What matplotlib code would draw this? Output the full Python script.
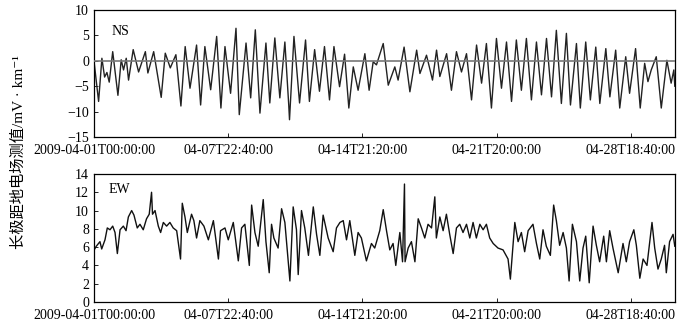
import numpy as np
import matplotlib
matplotlib.use("Agg")
import matplotlib.pyplot as plt

# ================= DATA ================= #
# time in days since 2009-04-01T00:00:00, values in mV/km
ns_day = [0.00, 0.24, 0.41, 0.55, 0.67, 0.79, 0.97, 1.24, 1.41, 1.53, 1.67, 1.79,
          2.03, 2.31, 2.66, 2.79, 3.09, 3.48, 3.69, 3.95, 4.24, 4.50, 4.72, 4.97,
          5.31, 5.52, 5.74, 6.04, 6.35, 6.57, 6.78, 7.07, 7.35, 7.52, 7.87, 8.11,
          8.35, 8.59, 8.90, 9.10, 9.36, 9.62, 9.88, 10.08, 10.12, 10.35, 10.64, 10.95,
          11.15, 11.42, 11.67, 11.93, 12.19, 12.42, 12.71, 12.97, 13.19, 13.42, 13.67, 14.02,
          14.24, 14.45, 14.62, 14.97, 15.23, 15.57, 15.74, 16.05, 16.35, 16.70, 16.87, 17.21,
          17.52, 17.73, 17.90, 18.25, 18.50, 18.76, 19.02, 19.28, 19.54, 19.80, 20.06, 20.31,
          20.57, 20.83, 21.09, 21.35, 21.61, 21.86, 22.12, 22.38, 22.64, 22.90, 23.16, 23.42,
          23.68, 23.93, 24.19, 24.45, 24.66, 24.97, 25.17, 25.45, 25.69, 25.97, 26.18, 26.49,
          26.70, 27.00, 27.21, 27.52, 27.72, 28.03, 28.27, 28.50, 28.67, 28.84, 29.10, 29.36,
          29.65, 29.87, 30.01, 30.06]
ns_val = [0.0, -8.0, 0.5, -3.2, -2.3, -4.2, 1.8, -6.8, 0.2, -1.8, 0.5, -3.8,
          2.2, -2.2, 1.8, -2.4, 1.8, -7.2, 1.5, -1.4, 1.2, -8.9, 2.8, -5.4,
          3.1, -8.7, 2.8, -5.7, 4.8, -9.3, 2.8, -6.4, 6.4, -10.6, 3.5, -7.3,
          6.1, -10.3, 3.5, -8.3, 4.5, -7.3, 3.7, -8.7, -11.6, 4.8, -8.3, 4.1,
          -8.0, 2.2, -6.0, 2.8, -7.7, 2.8, -5.1, 1.3, -9.3, -1.2, -5.8, 1.4,
          -5.8, -0.2, -0.8, 3.4, -4.8, -1.2, -3.8, 2.7, -6.1, 2.1, -2.5, 1.1,
          -3.8, 2.1, -3.1, 1.4, -5.8, 1.8, -2.2, 1.4, -7.7, 3.1, -4.4, 3.4,
          -9.3, 4.4, -5.4, 3.7, -8.0, 4.1, -5.8, 4.4, -7.7, 3.7, -6.7, 4.4,
          -7.1, 6.0, -8.4, 5.4, -8.7, 3.4, -9.3, 3.7, -7.7, 2.7, -8.4, 2.4,
          -7.1, 2.1, -9.3, 0.8, -6.4, 2.4, -9.3, -0.5, -4.1, -1.8, 0.8, -9.3,
          0.1, -4.4, -1.8, -5.0]

ew_day = [0.01, 0.12, 0.31, 0.40, 0.57, 0.69, 0.83, 0.97, 1.09, 1.21, 1.35, 1.52,
          1.66, 1.78, 1.95, 2.07, 2.24, 2.38, 2.55, 2.72, 2.86, 2.98, 3.03, 3.16,
          3.33, 3.45, 3.59, 3.76, 3.93, 4.10, 4.28, 4.48, 4.57, 4.71, 4.83, 5.05,
          5.17, 5.31, 5.48, 5.69, 5.92, 6.18, 6.44, 6.55, 6.78, 6.95, 7.21, 7.47,
          7.64, 7.81, 8.04, 8.16, 8.33, 8.50, 8.76, 8.90, 9.07, 9.19, 9.31, 9.53,
          9.71, 9.88, 10.14, 10.31, 10.48, 10.57, 10.74, 10.91, 11.10, 11.35, 11.52, 11.69,
          11.86, 12.12, 12.38, 12.55, 12.73, 12.90, 13.07, 13.24, 13.50, 13.67, 13.84, 14.10,
          14.36, 14.53, 14.79, 14.97, 15.14, 15.31, 15.48, 15.62, 15.83, 15.97, 16.07, 16.10,
          16.26, 16.43, 16.61, 16.78, 16.95, 17.12, 17.29, 17.47, 17.64, 17.72, 17.90, 18.07,
          18.24, 18.41, 18.59, 18.76, 18.93, 19.10, 19.28, 19.45, 19.62, 19.79, 19.97, 20.14,
          20.31, 20.48, 20.66, 20.91, 21.17, 21.43, 21.55, 21.69, 21.78, 21.95, 22.12, 22.29,
          22.47, 22.72, 22.90, 23.07, 23.24, 23.41, 23.62, 23.79, 23.93, 24.10, 24.28, 24.45,
          24.59, 24.76, 24.97, 25.14, 25.31, 25.45, 25.63, 25.83, 26.00, 26.17, 26.38, 26.52,
          26.69, 26.86, 27.13, 27.38, 27.55, 27.72, 27.94, 28.07, 28.25, 28.42, 28.62, 28.88,
          29.02, 29.19, 29.36, 29.53, 29.62, 29.79, 29.97, 30.06]
ew_val = [5.7, 6.1, 6.6, 5.8, 6.8, 8.1, 7.9, 8.3, 7.6, 5.3, 7.9, 8.3,
          7.8, 9.3, 10.0, 9.5, 8.1, 8.5, 7.9, 9.1, 9.6, 12.0, 9.6, 10.0,
          8.3, 7.6, 8.7, 8.3, 8.7, 8.1, 7.8, 4.7, 10.8, 9.3, 7.6, 9.6,
          8.9, 7.0, 8.9, 8.3, 6.8, 8.9, 4.7, 7.8, 8.1, 6.8, 8.7, 4.5,
          8.1, 8.5, 4.0, 10.6, 7.6, 6.1, 11.2, 6.6, 3.2, 8.5, 7.0, 5.9,
          10.2, 8.7, 2.3, 10.4, 7.9, 3.0, 10.0, 8.1, 5.1, 10.4, 7.4, 5.1,
          9.5, 7.0, 5.5, 8.1, 8.7, 8.9, 6.8, 8.9, 5.1, 7.6, 7.0, 4.5,
          6.4, 5.9, 7.8, 10.1, 7.8, 5.7, 6.4, 4.0, 7.6, 4.4, 12.9, 4.4,
          5.9, 6.6, 4.4, 9.1, 8.1, 7.0, 8.5, 8.1, 11.5, 7.0, 9.3, 7.8,
          9.6, 7.4, 5.3, 8.1, 8.5, 7.6, 8.5, 7.0, 8.7, 7.0, 8.5, 7.9,
          8.5, 7.0, 6.4, 5.9, 5.7, 4.7, 2.5, 6.2, 8.7, 6.6, 7.6, 5.5,
          7.8, 8.5, 6.4, 4.7, 7.9, 6.1, 5.1, 10.6, 8.9, 6.2, 7.6, 5.9,
          2.3, 8.5, 6.6, 2.3, 5.9, 7.2, 2.1, 8.3, 6.2, 4.4, 7.2, 4.4,
          7.8, 5.9, 3.2, 6.4, 4.4, 6.6, 7.9, 6.2, 2.6, 4.7, 4.0, 8.7,
          5.9, 3.6, 4.7, 6.2, 3.2, 6.6, 7.4, 6.1]

tick_minutes = [0, 10000, 20000, 30000, 40000]
tick_labels = ["2009-04-01T00:00:00", "04-07T22:40:00", "04-14T21:20:00",
               "04-21T20:00:00", "04-28T18:40:00"]

# ================= STYLE ================= #
plt.rcParams["font.family"] = ["Liberation Serif", "Noto Sans CJK SC", "DejaVu Sans"]
plt.rcParams["font.size"] = 10
X_MAX = 43300

fig = plt.figure(figsize=(6.94, 3.26), dpi=100)
ax1 = fig.add_axes([0.1354, 0.5798, 0.8372, 0.3895])
ax2 = fig.add_axes([0.1354, 0.0736, 0.8372, 0.3927])

ns_t = np.array(ns_day) * 1440
ew_t = np.array(ew_day) * 1440

ax1.plot(ns_t, ns_val, color="#222222", lw=1.0)
ax1.axhline(0, color="#777777", lw=1.2, zorder=3)
ax1.set_ylim(-15, 10)
ax1.set_yticks([-15, -10, -5, 0, 5, 10])
ax1.text(0.03, 0.88, "NS", transform=ax1.transAxes, fontsize=10, va="top")

ax2.plot(ew_t, ew_val, color="#111111", lw=1.0)
ax2.set_ylim(0, 14)
ax2.set_yticks(range(0, 15, 2))
ax2.text(0.025, 0.93, "EW", transform=ax2.transAxes, fontsize=10, va="top")

for ax in (ax1, ax2):
    ax.set_xlim(0, X_MAX)
    ax.set_xticks(tick_minutes)
    ax.set_xticklabels(tick_labels)
    ax.tick_params(direction="in", length=3, width=0.6, labelsize=10)
    ax.tick_params(axis="x", pad=5)
    for s in ax.spines.values():
        s.set_linewidth(0.9)

fig.text(0.027, 0.535, "长极距地电场测值/mV · km⁻¹", rotation=90,
         ha="center", va="center", fontsize=11)

fig.savefig("out.png", dpi=100)
